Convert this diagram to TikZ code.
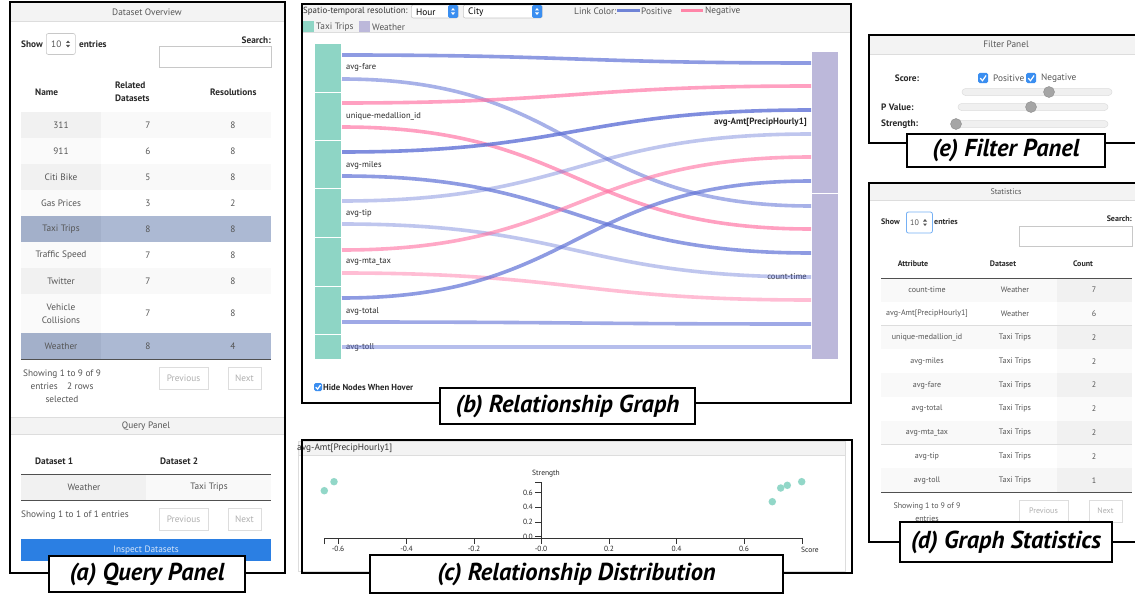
\documentclass[tikz,border=0pt]{standalone}
\usepackage{fontspec}
\setmainfont{PT Sans}
\usetikzlibrary{positioning}

\definecolor{nodegreen}{RGB}{142,213,197}
\definecolor{nodepurple}{RGB}{188,184,218}
\definecolor{dotgreen}{RGB}{146,215,200}
\definecolor{hdrgray}{RGB}{243,243,243}
\definecolor{rowgray}{RGB}{249,249,249}
\definecolor{colgray}{RGB}{241,241,241}
\definecolor{colwhite}{RGB}{250,250,250}
\definecolor{selblue}{RGB}{172,185,211}
\definecolor{selcol}{RGB}{163,176,202}
\definecolor{linegray}{RGB}{221,221,221}
\definecolor{boxline}{RGB}{200,200,200}
\definecolor{darkline}{RGB}{80,80,80}
\definecolor{txtgray}{RGB}{85,85,85}
\definecolor{darktxt}{RGB}{40,40,40}
\definecolor{btntext}{RGB}{175,175,175}
\definecolor{inspblue}{RGB}{43,127,227}
\definecolor{chkblue}{RGB}{58,142,240}
\definecolor{linkblue}{RGB}{95,113,214}
\definecolor{linkpink}{RGB}{255,110,160}
\definecolor{posblue}{RGB}{111,131,214}
\definecolor{negpink}{RGB}{255,133,168}
\definecolor{trackgray}{RGB}{240,240,240}
\definecolor{knobgray}{RGB}{165,165,165}

\newcommand{\tagfont}{\fontsize{24.5}{26}\selectfont\bfseries\itshape}
\newcommand{\uifont}{\fontsize{9.3}{13}\selectfont}
\newcommand{\smallui}{\fontsize{8}{13}\selectfont}

% little widgets
\newcommand{\chkbox}[3]{%
  \fill[chkblue, rounded corners=1.5pt] (#1,#2) rectangle ++(#3,#3);
  \draw[white, line width=1.2pt] (#1,#2) ++({0.22*#3},{0.52*#3}) -- ++({0.23*#3},{0.25*#3}) -- ++({0.36*#3},{-0.52*#3});}
\newcommand{\updn}[3][txtgray]{%
  \fill[#1] (#2,#3) ++(-2,-1) -- ++(4,0) -- ++(-2,-2.5) -- cycle;
  \fill[#1] (#2,#3) ++(-2,1) -- ++(4,0) -- ++(-2,2.5) -- cycle;}

\tikzset{
  panel/.style={draw=black, line width=2pt},
  tagbox/.style={draw=black, line width=2.2pt, fill=white, font=\tagfont, inner sep=0pt},
  txt/.style={font=\uifont, text=txtgray, inner sep=0pt},
  btxt/.style={font=\uifont\bfseries, text=darktxt, inner sep=0pt},
  stxt/.style={font=\smallui, text=txtgray, inner sep=0pt},
  sbtxt/.style={font=\smallui\bfseries, text=darktxt, inner sep=0pt},
  btn/.style={draw=linegray, line width=0.8pt, fill=white, font=\uifont, text=btntext, inner sep=0pt},
  selbox/.style={draw=boxline, line width=0.6pt, rounded corners=2pt, fill=white, inner sep=0pt},
  rowline/.style={draw=linegray, line width=0.6pt},
  headline/.style={draw=darkline, line width=1pt},
  tnode/.style={fill=nodegreen, draw=white, line width=0.6pt, minimum width=27, inner sep=0pt},
  wnode/.style={fill=nodepurple, draw=white, line width=0.6pt, minimum width=27, inner sep=0pt},
  glabel/.style={font=\fontsize{8.5}{10}\selectfont, text=darktxt, inner sep=0pt},
  link/.style={line width=3.6pt, out=0, in=180, looseness=1.25},
  dot/.style={circle, fill=dotgreen, minimum size=7.5, inner sep=0pt},
  axisline/.style={draw=black!80, line width=0.6pt},
  ticklab/.style={font=\fontsize{7.5}{9}\selectfont, text=black!85, inner sep=0pt},
  track/.style={draw=linegray, fill=trackgray, line width=0.5pt, rounded corners=3.5pt},
  knob/.style={fill=knobgray, draw=knobgray!85!black, line width=0.4pt}
}

\begin{document}
\begin{tikzpicture}[x=1pt, y=-1pt]
            \useasboundingbox (0,0) rectangle (1135,594);
            \fill[white] (0,0) rectangle (1135,594);

            % (a) dataset overview + query panel
            \fill[hdrgray] (11,2) rectangle (284,21);
            \draw[rowline] (11,21) -- (284,21);
            \node[txt] (ovtitle) at (147,12) {Dataset Overview};
            \node[btxt, anchor=west] (showa) at (21,44) {Show};
            \node[selbox, minimum width=29, minimum height=21, anchor=west] (numa) at (46,44) {};
            \node[txt, anchor=west] (numalab) at (51,44.5) {10};
            \updn{68}{44}
            \node[btxt, anchor=west] (entra) at (79,44) {entries};
            \node[btxt, anchor=east] (srcha) at (271,40) {Search:};
            \draw[boxline] (159,46) rectangle (271,67);
            \node[btxt, anchor=west] (hname) at (35,92) {Name};
            \node[btxt, anchor=west, align=left] (hrel) at (115,92) {Related\\Datasets};
            \node[btxt, anchor=west] (hres) at (210,92) {Resolutions};
            \draw[headline] (21,112) -- (271,112);
            \foreach \nm/\nrel/\nres/\rtop/\rh/\rowc/\colc [count=\idx] in {
                311/7/8/112/26/rowgray/colgray,
                911/6/8/138/26/white/colwhite,
                Citi Bike/5/8/164/26/rowgray/colgray,
                Gas Prices/3/2/190/26/white/colwhite,
                Taxi Trips/8/8/216/26/selblue/selcol,
                Traffic Speed/7/8/242/26/white/colwhite,
                Twitter/7/8/268/26/rowgray/colgray,
                {Vehicle\\Collisions}/7/8/294/39/white/colwhite,
                Weather/8/4/333/26/selblue/selcol}
            {
                \fill[fill=\rowc] (21,\rtop) rectangle (271,{\rtop+\rh});
                \fill[fill=\colc] (21,\rtop) rectangle (101,{\rtop+\rh});
                \draw[rowline] (21,{\rtop+\rh}) -- (271,{\rtop+\rh});
                \node[txt, align=center] (nm\idx) at (61,{\rtop+\rh/2}) {\nm};
                \node[txt] (rel\idx) at (148,{\rtop+\rh/2}) {\nrel};
                \node[txt] (res\idx) at (233,{\rtop+\rh/2}) {\nres};
            }
            \draw[headline] (21,359) -- (271,359);
            \node[txt, align=center] (infoa) at (62,386) {Showing 1 to 9 of 9\\entries\quad 2 rows\\selected};
            \node[btn, minimum width=49, minimum height=22] (preva) at (183.5,378) {Previous};
            \node[btn, minimum width=33, minimum height=22] (nexta) at (244.5,378) {Next};

            \fill[hdrgray] (11,417) rectangle (284,434);
            \draw[rowline] (11,417) -- (284,417) (11,434) -- (284,434);
            \node[txt] (qtitle) at (146,426) {Query Panel};
            \node[btxt, anchor=west] (hds1) at (35,461) {Dataset 1};
            \node[btxt, anchor=west] (hds2) at (160,461) {Dataset 2};
            \fill[colgray] (21,474) rectangle (146,500);
            \fill[rowgray] (146,474) rectangle (271,500);
            \draw[headline] (21,474) -- (271,474) (21,500) -- (271,500);
            \node[txt] (ds1) at (84,487) {Weather};
            \node[txt] (ds2) at (209,487) {Taxi Trips};
            \node[txt, anchor=west] (infoq) at (21,515) {Showing 1 to 1 of 1 entries};
            \node[btn, minimum width=49, minimum height=22] (prevq) at (183.5,519) {Previous};
            \node[btn, minimum width=33, minimum height=22] (nextq) at (244.5,519) {Next};
            \node[fill=inspblue, minimum width=250, minimum height=22, font=\uifont, text=white!80!inspblue, inner sep=0pt] (inspect) at (146,550) {Inspect Datasets};
            \draw[panel] (10,2) rectangle (285,573);
            \node[tagbox, minimum width=196, minimum height=36] (taga) at (147,574) {(a) Query Panel};

            % (b) relationship graph
            \fill[hdrgray] (303,5) rectangle (850,32);
            \draw[rowline] (303,32) -- (850,32);
            \node[txt, font=\fontsize{8.9}{10}\selectfont, text=black!80, anchor=west] (resol) at (303,11) {Spatio-temporal resolution:};
            \node[selbox, minimum width=47, minimum height=13, anchor=west] (hoursel) at (411,11.5) {};
            \fill[chkblue, rounded corners=1.5pt] (448,5) rectangle (458,18);
            \updn[white]{453}{11.5}
            \node[txt, text=black, anchor=west] (hourlab) at (416,12) {Hour};
            \node[selbox, minimum width=79, minimum height=13, anchor=west] (citysel) at (463,11.5) {};
            \fill[chkblue, rounded corners=1.5pt] (532,5) rectangle (542,18);
            \updn[white]{537}{11.5}
            \node[txt, text=black, anchor=west] (citylab) at (468,12) {City};
            \node[txt, anchor=west] (lcolor) at (574,11) {Link Color:};
            \draw[posblue, line width=3pt] (617,11) -- (640,11);
            \node[txt, anchor=west] (poslab) at (641,11) {Positive};
            \draw[negpink, line width=3pt] (681,11) -- (703,11);
            \node[txt, anchor=west] (neglab) at (705,11) {Negative};
            \fill[nodegreen] (303,21) rectangle (314,32);
            \node[txt, anchor=west] (taxileg) at (316,27) {Taxi Trips};
            \fill[nodepurple] (359,21) rectangle (370,32);
            \node[txt, anchor=west] (weatherleg) at (372,27) {Weather};

            \foreach \nm/\lab/\ntop/\nh/\ly in {
                fare/avg-fare/43/49/67,
                uniq/unique-medallion\_id/92/48/116,
                miles/avg-miles/140/48/165,
                tip/avg-tip/188/49/213,
                mta/avg-mta\_tax/237/49/262,
                total/avg-total/286/48/311,
                toll/avg-toll/334/25/347}
            {
                \node[tnode, minimum height=\nh, anchor=north west] (\nm) at (314,\ntop) {};
                \node[glabel, anchor=west] (\nm lab) at (346,\ly) {\lab};
            }
            \node[wnode, minimum height=142, anchor=north west] (amt) at (811,51) {};
            \node[wnode, minimum height=166, anchor=north west] (ctime) at (811,193) {};
            \node[glabel, font=\fontsize{9}{10}\selectfont\bfseries, anchor=east] (amtlab) at (807,122) {avg-Amt[PrecipHourly1]};
            \node[glabel, anchor=east] (ctimelab) at (807,277) {count-time};

            \foreach \n/\y in {1/55,2/79,3/103,4/127,5/152,6/176,7/201,8/224,9/250,10/273,11/298,12/322,13/347}
                \coordinate (l\n) at (342,\y);
            \foreach \n/\y in {1/63,2/86,3/110,4/134,5/157,6/181,7/206,8/229,9/253,10/277,11/300,12/324,13/347}
                \coordinate (r\n) at (811,\y);
            \foreach \src/\dst/\col/\op in {1/1/linkblue/.7, 2/7/linkblue/.55, 3/2/linkpink/.65, 4/8/linkpink/.65,
                5/3/linkblue/.8, 6/9/linkblue/.7, 7/4/linkblue/.4, 8/10/linkblue/.4, 9/5/linkpink/.6,
                10/11/linkpink/.45, 11/6/linkblue/.7, 12/12/linkblue/.6, 13/13/linkblue/.45}
                \draw[link, draw=\col, draw opacity=\op] (l\src) to (r\dst);

            \chkbox{314}{383}{8}
            \node[btxt, font=\fontsize{8.7}{10}\selectfont\bfseries, anchor=west] (hidelab) at (323,387.5) {Hide Nodes When Hover};
            \draw[panel] (302,4) rectangle (851,403);
            \node[tagbox, minimum width=255, minimum height=36] (tagb) at (567.5,406) {(b) Relationship Graph};

            % (c) relationship distribution
            \draw[rowline] (298,441) rectangle (845,571);
            \fill[hdrgray] (298.5,441.5) rectangle (844.5,455);
            \draw[rowline] (298,455) -- (845,455);
            \node[txt, text=black!80, anchor=west] (distitle) at (297,448) {avg-Amt[PrecipHourly1]};
            \draw[axisline] (324,544) -- (324,538) -- (802,538) -- (802,544);
            \foreach \tv/\x in {-0.6/338,-0.4/406.5,-0.2/474,-0.0/541,0.2/609,0.4/676.5,0.6/744}
            {
                \draw[axisline] (\x,538) -- (\x,544);
                \node[ticklab] at (\x,549) {\tv};
            }
            \draw[axisline] (535,482) -- (541,482) -- (541,538) -- (535,538);
            \foreach \tv/\y in {0.6/492.7,0.4/507.3,0.2/522,0.0/536.7}
            {
                \draw[axisline] (535,\y) -- (541,\y);
                \node[ticklab, anchor=east] at (533,\y) {\tv};
            }
            \node[ticklab] (strlab) at (546,474) {Strength};
            \node[ticklab] (scorelab) at (810,550) {Score};
            \foreach \x/\y [count=\idx] in {324.3/490.7,334/481.7,772.3/501.7,780.7/488,787.3/485.3,801.7/481.7}
                \node[dot] (d\idx) at (\x,\y) {};
            \draw[panel] (302,440) rectangle (852,573);
            \node[tagbox, minimum width=413, minimum height=38] (tagc) at (576.5,574) {(c) Relationship Distribution};

            % (e) filter panel
            \fill[hdrgray] (870,36) rectangle (1137,54);
            \draw[rowline] (870,54) -- (1137,54);
            \node[txt] (ftitle) at (1006,44) {Filter Panel};
            \node[btxt] (scorel) at (907,78) {Score:};
            \chkbox{978}{73}{10}
            \node[txt, anchor=west] (posbox) at (993,78) {Positive};
            \chkbox{1026}{73}{10}
            \node[txt, anchor=west] (negbox) at (1041,78) {Negative};
            \draw[track] (962,88.5) rectangle (1112,95.5);
            \draw[knob] (1049,92) circle (5.5);
            \node[btxt, anchor=west] (pvlab) at (881,107) {P Value:};
            \draw[track] (958,103.5) rectangle (1108,110.5);
            \draw[knob] (1031,107) circle (5.5);
            \node[btxt, anchor=west] (stlab) at (881,124) {Strength:};
            \draw[track] (952,120.5) rectangle (1108,127.5);
            \draw[knob] (956,124) circle (5.5);
            \draw[panel] (869,35) rectangle (1137,143);
            \node[tagbox, minimum width=198, minimum height=33] (tage) at (1006,150.5) {(e) Filter Panel};

            % (d) graph statistics
            \fill[hdrgray] (870,184) rectangle (1137,200);
            \draw[rowline] (870,200) -- (1137,200);
            \node[stxt] (sttitle) at (1006,192) {Statistics};
            \node[sbtxt, anchor=west] (showd) at (881,222) {Show};
            \node[selbox, draw=chkblue!70, line width=0.8pt, minimum width=26, minimum height=21, anchor=west] (numd) at (906,222.5) {};
            \node[stxt, anchor=west] (numdlab) at (910,223) {10};
            \updn{925}{222.5}
            \node[sbtxt, anchor=west] (entrd) at (934,222) {entries};
            \node[sbtxt, anchor=east] (srchd) at (1132,219) {Search:};
            \draw[boxline] (1019,226) rectangle (1132,246);
            \node[sbtxt] (hatt) at (913,264) {Attribute};
            \node[sbtxt] (hds) at (1003,264) {Dataset};
            \node[sbtxt] (hcnt) at (1083,264) {Count};
            \foreach \att/\dset/\cnt [count=\idx] in {
                count-time/Weather/7,
                {avg-Amt[PrecipHourly1]}/Weather/6,
                unique-medallion\_id/Taxi Trips/2,
                avg-miles/Taxi Trips/2,
                avg-fare/Taxi Trips/2,
                avg-total/Taxi Trips/2,
                avg-mta\_tax/Taxi Trips/2,
                avg-tip/Taxi Trips/2,
                avg-toll/Taxi Trips/1}
            {
                \pgfmathsetmacro{\ytop}{278+(\idx-1)*23.8}
                \ifodd\idx \def\rowc{rowgray}\def\colc{colgray}\else \def\rowc{white}\def\colc{colwhite}\fi
                \fill[fill=\rowc] (881,\ytop) rectangle (1132,{\ytop+23.8});
                \fill[fill=\colc] (1057,\ytop) rectangle (1132,{\ytop+23.8});
                \draw[rowline] (881,{\ytop+23.8}) -- (1132,{\ytop+23.8});
                \node[stxt] (att\idx) at (927,{\ytop+11.9}) {\att};
                \node[stxt] (ds\idx) at (1015,{\ytop+11.9}) {\dset};
                \node[stxt] (cnt\idx) at (1094,{\ytop+11.9}) {\cnt};
            }
            \draw[headline] (881,278) -- (1132,278) (881,492) -- (1132,492);
            \node[stxt, align=center] (infod) at (927,512.5) {Showing 1 to 9 of 9\\entries};
            \node[btn, font=\smallui, minimum width=49, minimum height=22] (prevd) at (1043.5,511) {Previous};
            \node[btn, font=\smallui, minimum width=33, minimum height=22] (nextd) at (1105.5,511) {Next};
            \draw[panel] (869,183) rectangle (1137,542);
            \node[tagbox, minimum width=212, minimum height=40] (tagd) at (1006,542) {(d) Graph Statistics};
        \end{tikzpicture}
\end{document}
